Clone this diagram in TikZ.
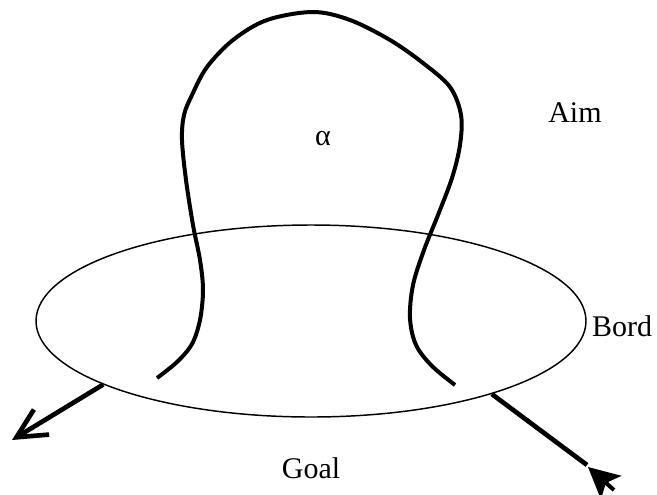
\documentclass[tikz,border=0pt]{standalone}
\usepackage{fontspec}
\setmainfont{Liberation Serif}
\usetikzlibrary{arrows.meta, positioning, shapes}

\begin{document}
\begin{tikzpicture}[
    x=0.75pt, y=-0.75pt,
    rim/.style={ellipse, draw=black, line width=1.1pt, minimum width=412.5pt, minimum height=144pt, inner sep=0pt},
    wire/.style={line width=3pt},
    edge/.style={line width=3.5pt},
    lbl/.style={anchor=base, inner sep=0pt, font=\fontsize{22.5}{27}\selectfont}
]
\useasboundingbox (0,0) rectangle (657,494);

% the disc
\node[rim] (rim) at (311,321) {};

% the loop through the disc
\draw[wire] plot[smooth, tension=0.55] coordinates {
    (157,378) (177,362) (192,344) (200,320) (203,290) (200,260) (193,225)
    (186,180) (182,140) (184,115) (192,95) (207,67) (233,40) (267,20) (313,12)
    (350,20) (390,40) (423,63) (450,87) (461,115) (460,145) (452,178)
    (438,215) (424,250) (413,285) (410,318) (416,345) (432,366) (455,385)};

% free ends
\coordinate (ltip) at (12,440);
\coordinate (rend) at (587,465);
\coordinate (stub) at (614,490);
\coordinate (rtip) at (588,467);

% arrows
\draw[edge, -{Straight Barb[length=22pt, width=22pt]}] (rim.197) -- (ltip);
\draw[edge] (rim.338) -- (rend);
\draw[line width=3pt, -{Stealth[length=23pt, width=23pt, inset=5pt]}] (stub) -- (rtip);

% labels
\node[lbl] (alpha) at (323,145) {α};
\node[lbl] (aim) at (575,122) {Aim};
\node[lbl] (bord) at (622,336) {Bord};
\node[lbl] (goal) at (311,478) {Goal};

\end{tikzpicture}
\end{document}
